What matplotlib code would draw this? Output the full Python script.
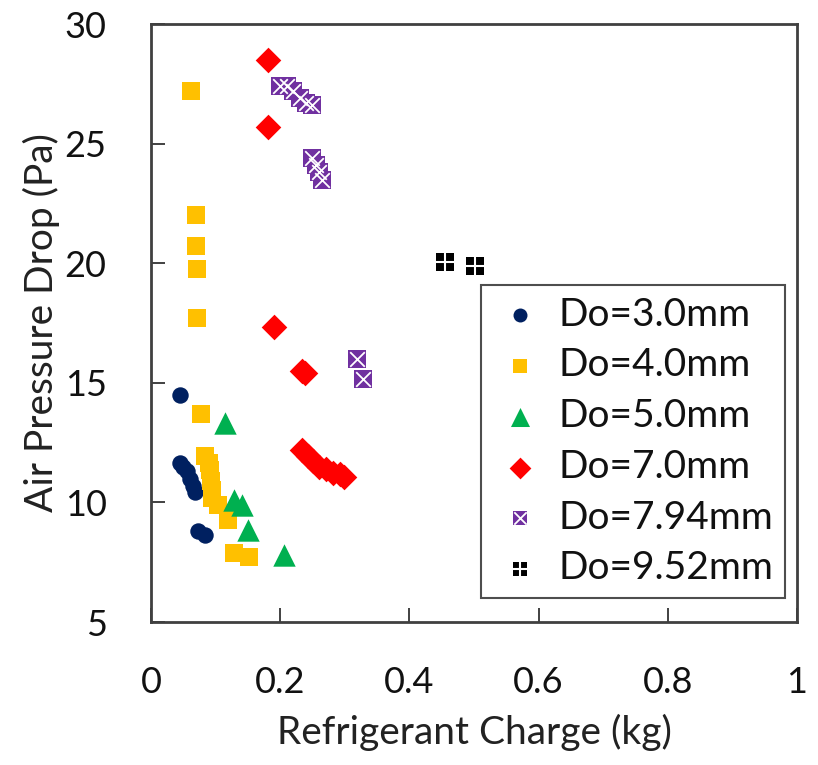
import matplotlib
matplotlib.use("Agg")
import matplotlib.pyplot as plt

plt.rcParams["font.family"] = ["Lato", "DejaVu Sans"]

# ---------------------------------------------------------------------------
# Data
# ---------------------------------------------------------------------------

do30_x = [0.045, 0.045, 0.050, 0.055, 0.060, 0.065, 0.068, 0.072, 0.083]
do30_y = [14.5, 11.65, 11.5, 11.3, 11.0, 10.7, 10.45, 8.8, 8.65]

do40_x = [0.062, 0.070, 0.070, 0.071, 0.071, 0.077, 0.084, 0.090, 0.091,
          0.093, 0.094, 0.094, 0.104, 0.119, 0.128, 0.152]
do40_y = [27.2, 22.0, 20.7, 19.75, 17.7, 13.7, 11.95, 11.65, 11.35,
          10.9, 10.5, 10.2, 9.9, 9.25, 7.9, 7.7]

do50_x = [0.115, 0.128, 0.141, 0.150, 0.206]
do50_y = [13.3, 10.1, 9.9, 8.85, 7.8]

do70_x = [0.181, 0.181, 0.190, 0.233, 0.238, 0.234, 0.243, 0.251, 0.260,
          0.271, 0.282, 0.293, 0.299]
do70_y = [28.5, 25.7, 17.35, 15.5, 15.4, 12.2, 11.95, 11.75, 11.5,
          11.4, 11.25, 11.2, 11.05]

do794_x = [0.200, 0.210, 0.220, 0.230, 0.240, 0.250, 0.250, 0.255, 0.260,
           0.265, 0.319, 0.328]
do794_y = [27.4, 27.4, 27.2, 26.9, 26.7, 26.6, 24.4, 24.1, 23.8,
           23.5, 16.0, 15.15]

do952_x = [0.455, 0.502]
do952_y = [20.05, 19.9]

# ---------------------------------------------------------------------------
# Plot
# ---------------------------------------------------------------------------

fig = plt.figure(figsize=(8.18, 7.65), dpi=100)
ax = fig.add_axes([0.1846, 0.1869, 0.7897, 0.7817])

ax.scatter(do30_x, do30_y, marker="o", s=140, color="#002060", linewidths=0,
           label="Do=3.0mm", zorder=3)
ax.scatter(do40_x, do40_y, marker="s", s=150, color="#FFC000", linewidths=0,
           label="Do=4.0mm", zorder=3)
ax.scatter(do50_x, do50_y, marker="^", s=260, color="#00B050", linewidths=0,
           label="Do=5.0mm", zorder=3)
ax.scatter(do70_x, do70_y, marker="D", s=170, color="#FF0000", linewidths=0,
           label="Do=7.0mm", zorder=3)
# purple square with white cross
ax.scatter(do794_x, do794_y, marker="s", s=160, color="#7030A0", linewidths=0,
           zorder=3)
ax.scatter(do794_x, do794_y, marker="x", s=110, color="white", linewidths=1.3,
           zorder=4)
# black square split into four
ax.scatter(do952_x, do952_y, marker="s", s=150, color="black", linewidths=0,
           zorder=3)
ax.scatter(do952_x, do952_y, marker="+", s=170, color="white", linewidths=1.5,
           zorder=4)

# legend proxies for the composite markers
h794a = ax.scatter([], [], marker="s", s=160, color="#7030A0", linewidths=0)
h794b = ax.scatter([], [], marker="x", s=110, color="white", linewidths=1.3)
h952a = ax.scatter([], [], marker="s", s=150, color="black", linewidths=0)
h952b = ax.scatter([], [], marker="+", s=170, color="white", linewidths=1.5)

handles, labels = ax.get_legend_handles_labels()
handles += [(h794a, h794b), (h952a, h952b)]
labels += ["Do=7.94mm", "Do=9.52mm"]

leg = ax.legend(handles, labels, loc="lower right", bbox_to_anchor=(0.982, 0.04),
                fontsize=28, frameon=True, fancybox=False, edgecolor="#222222",
                handletextpad=0.3, labelspacing=0.38, borderpad=0.3,
                borderaxespad=0, handlelength=1.4, markerscale=0.85)
leg.get_frame().set_linewidth(1.5)
for t in leg.get_texts():
    t.set_color("#111111")

ax.set_xlim(0, 1)
ax.set_ylim(5, 30)
ax.set_xticks([0, 0.2, 0.4, 0.6, 0.8, 1])
ax.set_xticklabels(["0", "0.2", "0.4", "0.6", "0.8", "1"])
ax.set_yticks([5, 10, 15, 20, 25, 30])
ax.tick_params(direction="in", length=10, width=1.3, labelsize=26, pad=32,
               color="#333333", labelcolor="#111111")

for sp in ax.spines.values():
    sp.set_color("#404040")
    sp.set_linewidth(2)

ax.set_xlabel("Refrigerant Charge (kg)", fontsize=28, color="#222222", labelpad=10)
ax.set_ylabel("Air Pressure Drop (Pa)", fontsize=28, color="#222222", labelpad=3)

fig.savefig("out.png", dpi=100)
